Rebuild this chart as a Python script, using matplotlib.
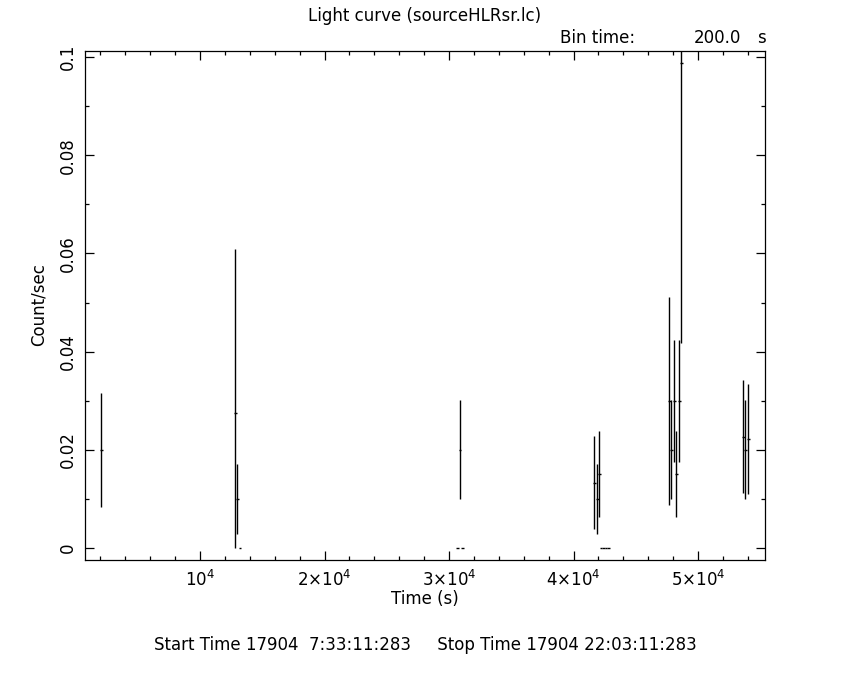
import matplotlib
matplotlib.use("Agg")
import matplotlib.pyplot as plt
from matplotlib.ticker import MultipleLocator

# light curve bins (s), rates (count/s) and error bars
TIME = [2070, 12840, 13000, 13200, 30700, 30900, 31100,
        41670, 41910, 42070, 42200, 42400, 42600, 42800,
        47700, 47860, 48100, 48260, 48500, 48660,
        53640, 53800, 54040]
RATE = [0.0200, 0.0274, 0.0100, 0.0, 0.0, 0.0200, 0.0,
        0.0133, 0.0100, 0.0151, 0.0, 0.0, 0.0, 0.0,
        0.0300, 0.0200, 0.0300, 0.0151, 0.0300, 0.0988,
        0.0227, 0.0200, 0.0223]
ERR_LO = [0.0117, 0.0274, 0.0071, 0.0, 0.0, 0.0101, 0.0,
          0.0095, 0.0071, 0.0088, 0.0, 0.0, 0.0, 0.0,
          0.0212, 0.0101, 0.0124, 0.0088, 0.0124, 0.0571,
          0.0115, 0.0101, 0.0112]
ERR_HI = [0.0116, 0.0335, 0.0071, 0.0, 0.0, 0.0101, 0.0,
          0.0095, 0.0071, 0.0088, 0.0, 0.0, 0.0, 0.0,
          0.0212, 0.0101, 0.0124, 0.0088, 0.0124, 0.0571,
          0.0115, 0.0101, 0.0112]
BIN_TIME = 200.0

XTICKS = [1e4, 2e4, 3e4, 4e4, 5e4]
XTICK_LABELS = [r"$10^4$", r"$2{\times}10^4$", r"$3{\times}10^4$",
                r"$4{\times}10^4$", r"$5{\times}10^4$"]
YTICKS = [0, 0.02, 0.04, 0.06, 0.08, 0.1]
YTICK_LABELS = ["0", "0.02", "0.04", "0.06", "0.08", "0.1"]

W, H = 850, 680
FS = 12


def main():
    plt.rcParams["mathtext.fontset"] = "dejavusans"
    fig = plt.figure(figsize=(W / 100, H / 100), dpi=100)
    ax = fig.add_axes([85 / W, 1 - 560 / H, 680 / W, 509 / H])

    ax.errorbar(TIME, RATE, xerr=BIN_TIME / 2, yerr=[ERR_LO, ERR_HI],
                fmt="none", ecolor="black", elinewidth=1.0, capsize=0)

    ax.set_xlim(760, 55380)
    ax.set_ylim(-0.00244, 0.10122)

    ax.set_xticks(XTICKS)
    ax.set_xticklabels(XTICK_LABELS)
    ax.xaxis.set_minor_locator(MultipleLocator(2000))
    ax.set_yticks(YTICKS)
    ax.set_yticklabels(YTICK_LABELS)
    ax.yaxis.set_minor_locator(MultipleLocator(0.01))
    for lab in ax.get_yticklabels():
        lab.set_rotation(90)
        lab.set_va("center")

    ax.tick_params(which="both", direction="in", top=True, right=True,
                   width=0.9, labelsize=FS)
    ax.tick_params(which="major", length=6.2)
    ax.tick_params(which="minor", length=3.2)
    ax.tick_params(axis="x", pad=7)
    ax.tick_params(axis="y", pad=6)
    for sp in ax.spines.values():
        sp.set_linewidth(0.9)

    fig.text(425 / W, 1 - 16 / H, "Light curve (sourceHLRsr.lc)",
             ha="center", va="center", fontsize=FS)
    fig.text(560 / W, 1 - 38 / H, "Bin time:", ha="left", va="center", fontsize=FS)
    fig.text(741 / W, 1 - 38 / H, "200.0", ha="right", va="center", fontsize=FS)
    fig.text(757 / W, 1 - 38 / H, "s", ha="left", va="center", fontsize=FS)

    fig.text(425 / W, 1 - 599 / H, "Time (s)", ha="center", va="center", fontsize=FS)
    fig.text(39 / W, 1 - 305 / H, "Count/sec", ha="center", va="center",
             rotation=90, fontsize=FS)
    fig.text(425 / W, 1 - 645 / H,
             "Start Time 17904  7:33:11:283     Stop Time 17904 22:03:11:283",
             ha="center", va="center", fontsize=FS)

    fig.savefig("out.png", dpi=100, facecolor="white")
    plt.close(fig)


if __name__ == "__main__":
    main()
